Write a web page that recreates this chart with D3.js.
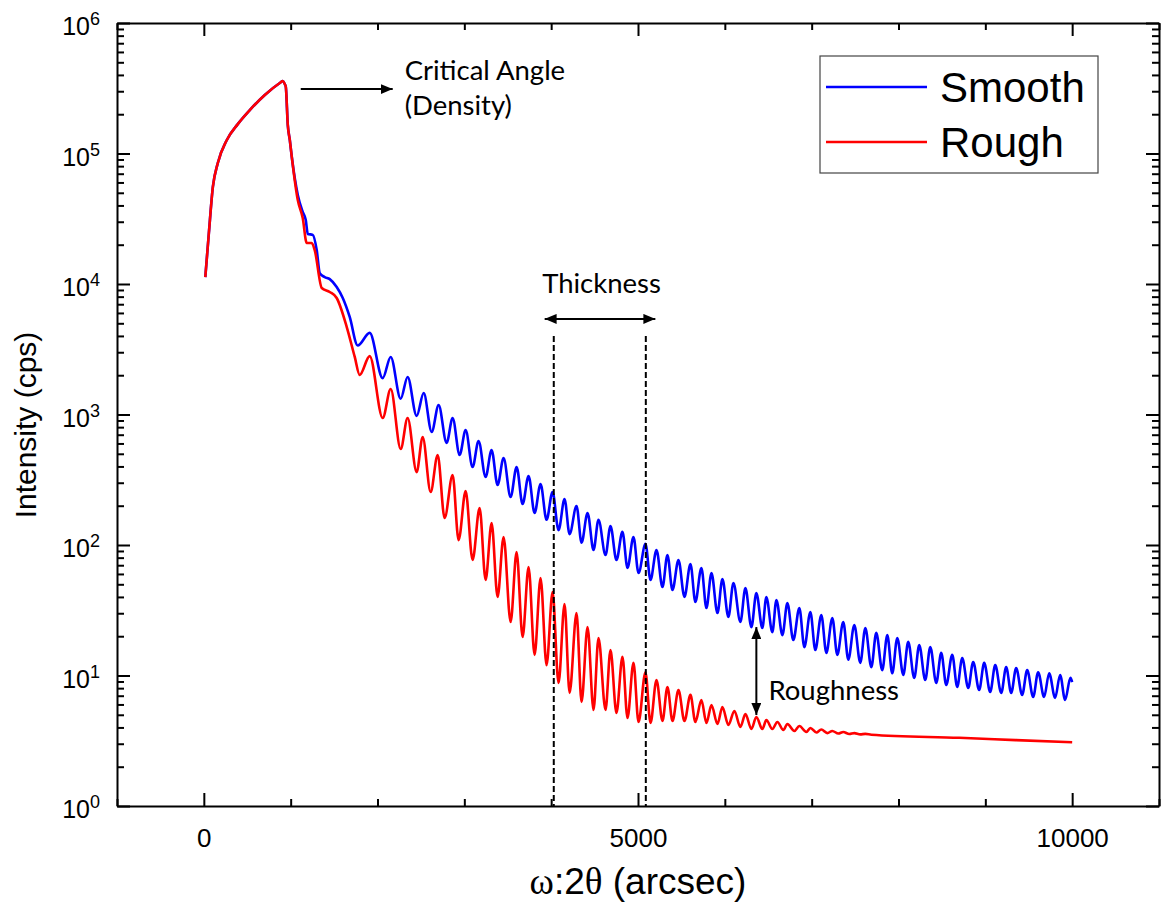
<!DOCTYPE html>
<html>
<head>
<meta charset="utf-8">
<script src="https://cdn.jsdelivr.net/npm/d3@7"></script>
<style>
    body { margin: 0; background: #fff; }
    svg { display: block; }
</style>
</head>
<body>
<svg id="chart" width="1161" height="903"></svg>
<script>
// ---- data (x in arcsec, intensity in cps) ----
const xDomain = [-1000, 11000]
const yDomain = [1, 1e6]
const xTicks = [-1000, 0, 1000, 2000, 3000, 4000, 5000, 6000, 7000, 8000, 9000, 10000, 11000]
const xLabels = [0, 5000, 10000]
const yMajor = [1, 10, 100, 1000, 10000, 100000, 1000000]
const seriesNames = ['Smooth', 'Rough']
const seriesColors = ['#0000ff', '#ff0000']

// total reflection region, shared by both samples
const sharedRise = [
    [17, 11300], [58, 24600], [104, 55400], [161, 84600], [265, 127000], [391, 168000],
    [529, 215000], [702, 281000], [875, 347000], [909, 359000], [932, 341000], [944, 324000],
    [967, 165000], [990, 127000], [1013, 94000]
]

// smooth sample: fringe peaks and troughs
const smoothTail = [
    [1082, 48100], [1139, 35600], [1174, 30900], [1197, 24200], [1254, 23800], [1300, 18200],
    [1335, 12100], [1392, 11300], [1450, 10900], [1530, 9480], [1600, 7810], [1680, 5590],
    [1772, 3380], [1910, 4220], [2060, 1900], [2152, 2760], [2267, 1320], [2347, 1940],
    [2451, 975], [2532, 1460], [2624, 735], [2704, 1180], [2796, 605], [2865, 940],
    [2946, 490], [3015, 760], [3095, 396], [3164, 627], [3245, 332], [3314, 535],
    [3383, 288], [3452, 464], [3533, 233], [3602, 396], [3671, 206], [3740, 338],
    [3809, 176], [3878, 293], [3947, 156], [4016, 255], [4085, 130], [4154, 225],
    [4212, 121], [4292, 199], [4350, 104], [4419, 176], [4488, 91.6], [4545, 156],
    [4626, 83.8], [4683, 140], [4752, 76.7], [4821, 126], [4879, 66.7], [4948, 115],
    [5006, 61.0], [5086, 102], [5144, 54.0], [5213, 91.6], [5282, 47.6], [5339, 83.8],
    [5397, 45.2], [5466, 76.7], [5535, 40.0], [5604, 71.5], [5661, 36.6], [5730, 66.7],
    [5788, 32.9], [5846, 61.0], [5915, 30.1], [5972, 54.8], [6041, 28.1], [6099, 51.2],
    [6179, 25.7], [6237, 46.8], [6306, 23.5], [6363, 42.9], [6432, 23.1], [6478, 40.0],
    [6547, 21.5], [6594, 37.9], [6663, 20.4], [6720, 35.9], [6789, 18.7], [6858, 32.9],
    [6916, 16.5], [6985, 30.7], [7042, 15.7], [7111, 29.1], [7169, 14.9], [7238, 27.6],
    [7295, 14.4], [7364, 25.7], [7422, 13.2], [7491, 24.4], [7560, 12.5], [7618, 23.1],
    [7687, 11.6], [7744, 21.2], [7813, 11.0], [7871, 20.4], [7928, 10.4], [7986, 19.4],
    [8055, 10.1], [8112, 18.1], [8181, 9.57], [8239, 17.1], [8308, 9.24], [8366, 16.5],
    [8435, 8.77], [8492, 14.9], [8550, 8.46], [8619, 14.4], [8676, 8.17], [8734, 13.6],
    [8803, 8.02], [8860, 12.7], [8929, 7.74], [8987, 12.5], [9056, 7.48], [9114, 12.0],
    [9183, 7.35], [9240, 11.6], [9298, 7.35], [9355, 11.4], [9424, 7.10], [9482, 11.0],
    [9551, 6.84], [9608, 10.6], [9677, 6.84], [9735, 10.4], [9804, 6.73], [9861, 10.1],
    [9919, 6.49], [9980, 9.6], [10000, 8.9]
]

// rough sample: fringes damp out at high angle
const roughTail = [
    [1082, 44000], [1139, 32000], [1185, 20600], [1243, 20600], [1277, 18200], [1358, 9310],
    [1450, 8690], [1530, 7810], [1646, 4680], [1738, 2760], [1795, 2010], [1910, 2800],
    [2060, 940], [2152, 1570], [2267, 544], [2347, 940], [2451, 362], [2520, 673],
    [2612, 255], [2693, 490], [2773, 161], [2865, 344], [2934, 109], [3015, 259],
    [3095, 76.7], [3176, 192], [3245, 54.0], [3314, 147], [3383, 40.0], [3452, 115],
    [3533, 25.7], [3602, 88.3], [3671, 19.7], [3740, 67.8], [3809, 14.4], [3878, 55.8],
    [3947, 12.0], [4016, 43.6], [4085, 8.77], [4154, 35.3], [4212, 7.35], [4292, 30.1],
    [4350, 6.27], [4419, 23.5], [4488, 5.44], [4545, 19.4], [4626, 5.44], [4683, 15.7],
    [4752, 5.16], [4821, 13.9], [4879, 4.72], [4948, 12.5], [5006, 4.40], [5086, 10.6],
    [5144, 4.33], [5213, 9.24], [5282, 4.48], [5339, 8.17], [5397, 4.48], [5466, 7.74],
    [5535, 4.48], [5604, 7.10], [5661, 4.40], [5730, 6.49], [5788, 4.33], [5846, 5.94],
    [5915, 4.25], [5972, 5.74], [6041, 4.18], [6110, 5.35], [6179, 4.03], [6237, 5.07],
    [6306, 3.89], [6363, 4.81], [6432, 3.89], [6478, 4.56], [6547, 3.89], [6605, 4.40],
    [6674, 3.82], [6720, 4.25], [6801, 3.76], [6858, 4.10], [6939, 3.69], [6985, 3.96],
    [7054, 3.66], [7111, 3.86], [7180, 3.62], [7238, 3.76], [7307, 3.59], [7364, 3.69],
    [7433, 3.56], [7491, 3.62], [7560, 3.54], [7618, 3.57], [7687, 3.52], [8699, 3.33],
    [9350, 3.20], [10000, 3.08]
]

// annotations, anchored in data units
const criticalArrow = [[1116, 312000], [2175, 312000]]
const thicknessArrow = [[3925, 5400], [5200, 5400]]
const thicknessMarks = [4030, 5090]
const thicknessMarkTop = 4000
const roughnessArrow = [[6363, 23.5], [6363, 4.98]]
const notes = [
    { text: 'Critical Angle', at: [2313, 366000], anchor: 'start' },
    { text: '(Density)', at: [2313, 197000], anchor: 'start' },
    { text: 'Thickness', at: [4580, 8530], anchor: 'middle' },
    { text: 'Roughness', at: [6502, 6.49], anchor: 'start' }
]

// ---- layout ----
const plot = { left: 117, right: 1159, top: 23, bottom: 806 }
const svg = d3.select('#chart')

const x = d3.scaleLinear().domain(xDomain).range([plot.left, plot.right])
const y = d3.scaleLog().domain(yDomain).range([plot.bottom, plot.top])

// minor ticks 2..9 in each decade
const yMinor = []
yMajor.slice(0, -1).forEach((m) => {
    for (let k = 2; k <= 9; k++) yMinor.push(m * k)
})
const yAll = yMajor.concat(yMinor)

const axisFont = "'Liberation Sans', Arial, sans-serif"
const noteFont = "Lato, 'Open Sans', sans-serif"

// 曲线, rough drawn last so it sits on top of the shared part
const line = d3
    .line()
    .x((d) => x(d[0]))
    .y((d) => y(d[1]))
    .curve(d3.curveMonotoneX)

const series = [sharedRise.concat(smoothTail), sharedRise.concat(roughTail)]

svg.append('g')
    .selectAll('path')
    .data(series)
    .enter()
    .append('path')
    .attr('d', (d) => line(d))
    .attr('fill', 'none')
    .attr('stroke', (d, i) => seriesColors[i])
    .attr('stroke-width', 2.6)
    .attr('stroke-linejoin', 'round')

// ---- axes ----
function styleAxis(g) {
    g.select('.domain').attr('stroke', '#000').attr('stroke-width', 2)
    g.selectAll('.tick line').attr('stroke', '#000').attr('stroke-width', 2)
}

const axisB = svg
    .append('g')
    .attr('transform', `translate(0,${plot.bottom})`)
    .call(d3.axisBottom(x).tickValues(xTicks).tickSize(-7).tickSizeOuter(0).tickFormat((d) => (xLabels.includes(d) ? d : '')))
axisB.selectAll('.tick line').attr('y2', (d) => (xLabels.includes(d) ? -13 : -7))
axisB.selectAll('.tick text').attr('y', 41).attr('dy', 0).attr('font-family', axisFont).attr('font-size', '26px').attr('fill', '#000')
styleAxis(axisB)

const axisT = svg
    .append('g')
    .attr('transform', `translate(0,${plot.top})`)
    .call(d3.axisTop(x).tickValues(xTicks).tickSize(-7).tickSizeOuter(0).tickFormat(''))
axisT.selectAll('.tick line').attr('y2', (d) => (xLabels.includes(d) ? 13 : 7))
styleAxis(axisT)

const axisL = svg
    .append('g')
    .attr('transform', `translate(${plot.left},0)`)
    .call(d3.axisLeft(y).tickValues(yAll).tickSize(-7).tickSizeOuter(0).tickFormat(''))
axisL.selectAll('.tick line').attr('x2', (d) => (yMajor.includes(d) ? 13 : 7))
styleAxis(axisL)

const axisR = svg
    .append('g')
    .attr('transform', `translate(${plot.right},0)`)
    .call(d3.axisRight(y).tickValues(yAll).tickSize(-7).tickSizeOuter(0).tickFormat(''))
axisR.selectAll('.tick line').attr('x2', (d) => (yMajor.includes(d) ? -13 : -7))
styleAxis(axisR)

// 10^n 标签
const yLab = svg
    .append('g')
    .selectAll('text')
    .data(yMajor)
    .enter()
    .append('text')
    .attr('x', plot.left - 17)
    .attr('y', (d) => y(d) + 12)
    .attr('text-anchor', 'end')
    .attr('font-family', axisFont)
    .attr('font-size', '25px')
    .attr('fill', '#000')
yLab.append('tspan').text('10')
yLab.append('tspan')
    .attr('dy', -10)
    .attr('font-size', '18px')
    .text((d) => Math.round(Math.log10(d)))

// axis titles
svg.append('text')
    .attr('transform', `translate(36,425) rotate(-90)`)
    .attr('text-anchor', 'middle')
    .attr('font-family', axisFont)
    .attr('font-size', '30px')
    .attr('fill', '#000')
    .text('Intensity (cps)')

const xTitle = svg
    .append('text')
    .attr('x', (plot.left + plot.right) / 2)
    .attr('y', 894)
    .attr('text-anchor', 'middle')
    .attr('font-family', axisFont)
    .attr('font-size', '37px')
    .attr('fill', '#000')
xTitle.append('tspan').attr('font-family', "'Liberation Serif', serif").text('ω')
xTitle.append('tspan').text(':2')
xTitle.append('tspan').attr('font-family', "'Liberation Serif', serif").text('θ')
xTitle.append('tspan').text(' (arcsec)')

// ---- annotations ----
const defs = svg.append('defs')
defs.append('marker')
    .attr('id', 'head')
    .attr('viewBox', '0 0 12 10')
    .attr('refX', 12)
    .attr('refY', 5)
    .attr('markerWidth', 12)
    .attr('markerHeight', 10)
    .attr('markerUnits', 'userSpaceOnUse')
    .attr('orient', 'auto-start-reverse')
    .append('path')
    .attr('d', 'M0,0 L12,5 L0,10 Z')
    .attr('fill', '#000')

const seg = d3
    .line()
    .x((d) => x(d[0]))
    .y((d) => y(d[1]))

svg.append('path').attr('d', seg(criticalArrow)).attr('stroke', '#000').attr('stroke-width', 2).attr('marker-end', 'url(#head)')
svg.append('path').attr('d', seg(thicknessArrow)).attr('stroke', '#000').attr('stroke-width', 2).attr('marker-start', 'url(#head)').attr('marker-end', 'url(#head)')
svg.append('path').attr('d', seg(roughnessArrow)).attr('stroke', '#000').attr('stroke-width', 2).attr('marker-start', 'url(#head)').attr('marker-end', 'url(#head)')

svg.append('g')
    .selectAll('line')
    .data(thicknessMarks)
    .enter()
    .append('line')
    .attr('x1', (d) => x(d))
    .attr('x2', (d) => x(d))
    .attr('y1', y(thicknessMarkTop))
    .attr('y2', plot.bottom)
    .attr('stroke', '#000')
    .attr('stroke-width', 2)
    .attr('stroke-dasharray', '6,3')

svg.append('g')
    .selectAll('text')
    .data(notes)
    .enter()
    .append('text')
    .attr('x', (d) => x(d.at[0]))
    .attr('y', (d) => y(d.at[1]))
    .attr('text-anchor', (d) => d.anchor)
    .attr('font-family', noteFont)
    .attr('font-size', '27.5px')
    .attr('fill', '#000')
    .text((d) => d.text)

// ---- legend ----
const legend = svg.append('g').attr('transform', 'translate(820,56)')
legend.append('rect').attr('width', 278).attr('height', 117).attr('fill', '#fff').attr('stroke', '#444').attr('stroke-width', 1.2)
const item = legend
    .selectAll('g')
    .data(seriesNames)
    .enter()
    .append('g')
    .attr('transform', (d, i) => `translate(0,${31 + i * 55})`)
item.append('line').attr('x1', 6).attr('x2', 107).attr('stroke', (d, i) => seriesColors[i]).attr('stroke-width', 2.5)
item.append('text')
    .attr('x', 120)
    .attr('y', 15)
    .attr('font-family', axisFont)
    .attr('font-size', '42px')
    .attr('fill', '#000')
    .text((d) => d)
</script>
</body>
</html>
